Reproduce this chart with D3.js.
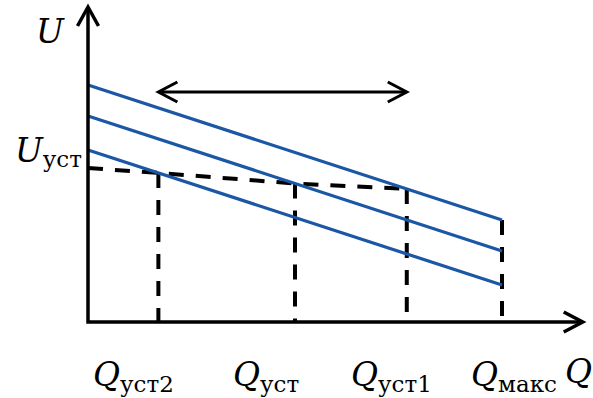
<!DOCTYPE html>
<html>
<head>
<meta charset="utf-8">
<script src="https://cdn.jsdelivr.net/npm/d3@7"></script>
<style>
  body { margin: 0; background: #fff; }
  svg { display: block; }
</style>
</head>
<body>
<svg id="chart" width="593" height="398"></svg>
<script>
// Drooping U(Q) characteristics for three settings of the regulator
const uAtZero = [11.85, 10.3, 8.6];   // U at Q = 0 for upper, middle, lower line
const uAtMax  = [5.1, 3.55, 1.85];    // U at Q = Qмакс
const qMax = 10;
// Operating points on the constant-U (dashed) characteristic
const qSettings = [1.7, 5.0, 7.7];    // Qуст2, Qуст, Qуст1
const settingLine = [2, 1, 0];        // which droop line each point lies on
const uSet = 7.7;                     // Uуст
const shiftArrowU = 11.5;             // level of the double arrow
const qAxisEnd = 11.95;
const uAxisEnd = 15.75;
const qLabelSubs = ["уст2", "уст", "уст1", "макс"];

const svg = d3.select("#chart");
const x = d3.scaleLinear().domain([0, qMax]).range([88, 502]);
const y = d3.scaleLinear().domain([0, 10]).range([322, 122]);

const uOn = (i, q) => uAtZero[i] + (uAtMax[i] - uAtZero[i]) * q / qMax;

const black = "#000";
const blue = "#1c57a5";
const dash = "15,12";

// dashed constant-voltage characteristic
const dashedPts = [[0, uSet]].concat(qSettings.map((q, k) => [q, uOn(settingLine[k], q)]));
svg.append("path")
  .attr("d", d3.line().x(d => x(d[0])).y(d => y(d[1]))(dashedPts))
  .attr("fill", "none").attr("stroke", black).attr("stroke-width", 4)
  .attr("stroke-dasharray", dash);

// dashed verticals down to the Q axis
const verticals = qSettings.map((q, k) => [q, uOn(settingLine[k], q)])
  .concat([[qMax, uAtMax[0]]]);
svg.selectAll("line.vert").data(verticals).join("line")
  .attr("class", "vert")
  .attr("x1", d => x(d[0])).attr("x2", d => x(d[0]))
  .attr("y1", d => y(d[1])).attr("y2", y(0))
  .attr("stroke", black).attr("stroke-width", 4)
  .attr("stroke-dasharray", dash);

// droop lines
svg.selectAll("line.droop").data(uAtZero).join("line")
  .attr("class", "droop")
  .attr("x1", x(0)).attr("y1", d => y(d))
  .attr("x2", x(qMax)).attr("y2", (d, i) => y(uAtMax[i]))
  .attr("stroke", blue).attr("stroke-width", 3.2);

// axes with open arrowheads
const axisG = svg.append("g").attr("fill", "none").attr("stroke", black)
  .attr("stroke-width", 3.5).attr("stroke-linejoin", "miter");
axisG.append("path")
  .attr("d", `M${x(0)},${y(uAxisEnd)} V${y(0)} H${x(qAxisEnd)}`);
const chevron = (tx, ty, dir, len, half) => {
  if (dir === "up") return `M${tx - half},${ty + len} L${tx},${ty} L${tx + half},${ty + len}`;
  if (dir === "right") return `M${tx - len},${ty - half} L${tx},${ty} L${tx - len},${ty + half}`;
  return `M${tx + len},${ty - half} L${tx},${ty} L${tx + len},${ty + half}`;
};
axisG.append("path").attr("d", chevron(x(0), y(uAxisEnd), "up", 19, 10.5));
axisG.append("path").attr("d", chevron(x(qAxisEnd), y(0), "right", 19, 10));

// double-headed arrow showing the shift of the droop lines
const arrowG = svg.append("g").attr("fill", "none").attr("stroke", black)
  .attr("stroke-width", 3);
const ay = y(shiftArrowU);
arrowG.append("path").attr("d", `M${x(qSettings[0]) + 1},${ay} H${x(qSettings[2]) - 1}`);
arrowG.append("path").attr("d", chevron(x(qSettings[0]), ay, "left", 19, 10));
arrowG.append("path").attr("d", chevron(x(qSettings[2]), ay, "right", 19, 10));

// labels
const mainFont = "DejaVu Serif";
const label = (px, py, main, sub, subDy) => {
  const t = svg.append("text").attr("x", px).attr("y", py)
    .attr("font-family", mainFont).attr("fill", black);
  t.append("tspan").attr("font-style", "italic").attr("font-size", 33).text(main);
  if (sub) {
    t.append("tspan").attr("font-size", 23).attr("dy", subDy).text(sub);
  }
  return t;
};
label(36, 43, "U");
label(15, 162, "U", "уст", 5);

const qLabelX = [93, 233, 351, 471];
qLabelX.forEach((px, k) => label(px, 386, "Q", qLabelSubs[k], 6));
label(565, 383, "Q");
</script>
</body>
</html>
